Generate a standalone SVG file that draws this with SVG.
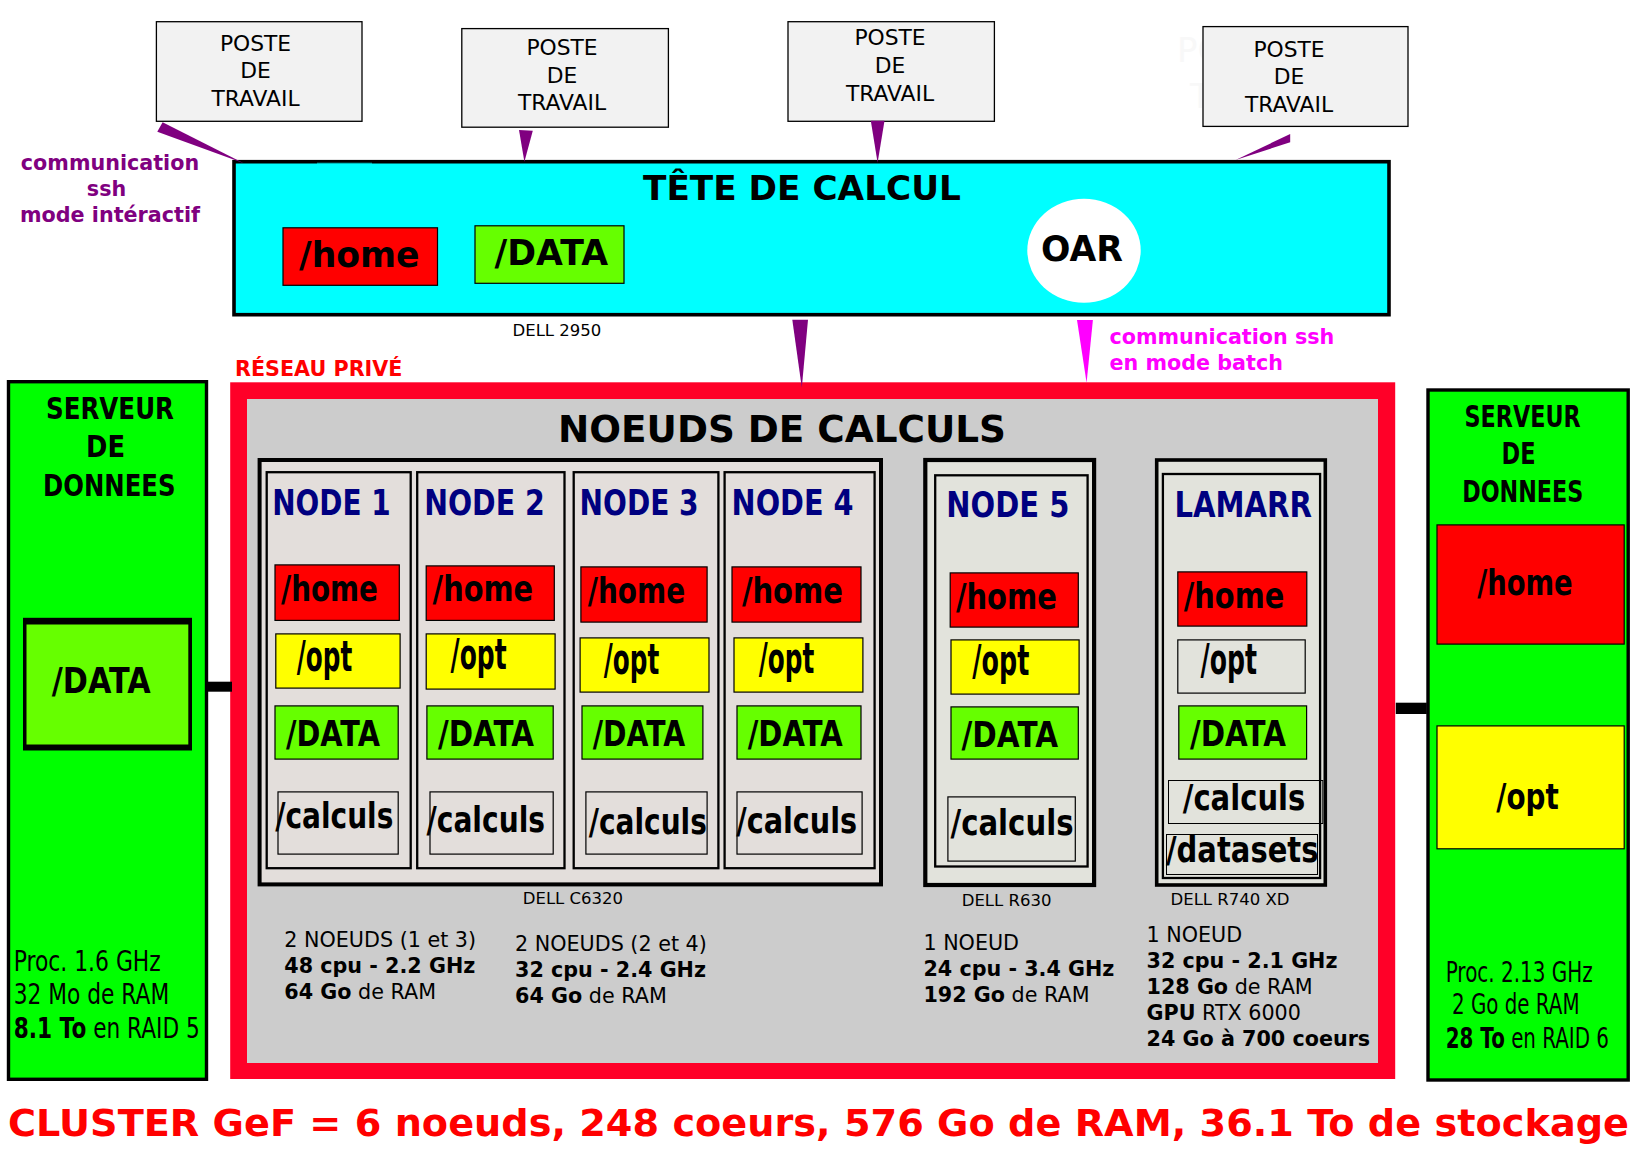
<svg xmlns="http://www.w3.org/2000/svg" width="1645" height="1163" viewBox="0 0 1645 1163">
<style>
text{font-family:"DejaVu Sans","Liberation Sans",sans-serif;fill:#000}
.b{font-weight:700}
.poste{font-size:21.8px;text-anchor:middle}
.pbox{fill:#f2f2f2;stroke:#000;stroke-width:1.3}
.st{font-weight:700;font-size:36px}
.op{font-weight:700;font-size:43px}
.ttl{font-weight:700;font-size:36px;fill:#000080}
.srv{font-weight:700;font-size:31px}
.inf{font-size:20.7px}
.dell{font-size:16.5px}
.proc{font-size:28px}
.h{fill:#f00;stroke:#000;stroke-width:1.2}
.o{fill:#ff0;stroke:#000;stroke-width:1.2}
.d{fill:#6f0;stroke:#000;stroke-width:1.2}
.c{fill:none;stroke:#000;stroke-width:1.2}
.nd{fill:#e3dedb;stroke:#000;stroke-width:2.3}
.nd5{fill:#e2e3dc;stroke:#000;stroke-width:2.3}
.pur{fill:#800080}
.mag{fill:#f0f}
.lnk{fill:#000}
.srvbox{fill:#0f0;stroke:#000;stroke-width:3.4}
.ghost{fill:#f8f8f8;font-size:34px}
</style>
<rect width="1645" height="1163" fill="#fff"/>

<g id="ghost"><text class="ghost" x="1177" y="61.5">PO</text><text class="ghost" x="1190" y="108">T</text></g>

<g id="poste-1"><rect class="pbox" x="156.4" y="21.7" width="205.6" height="99.6"/><text class="poste" x="255.5" y="50.7">POSTE</text><text class="poste" x="255.5" y="77.7">DE</text><text class="poste" x="255.5" y="105.5">TRAVAIL</text></g>
<g id="poste-2"><rect class="pbox" x="461.8" y="28.6" width="206.6" height="98.6"/><text class="poste" x="562" y="54.7">POSTE</text><text class="poste" x="562" y="82.7">DE</text><text class="poste" x="562" y="110">TRAVAIL</text></g>
<g id="poste-3"><rect class="pbox" x="788" y="21.7" width="206.4" height="99.6"/><text class="poste" x="890" y="45.3">POSTE</text><text class="poste" x="890" y="72.7">DE</text><text class="poste" x="890" y="101">TRAVAIL</text></g>
<g id="poste-4"><rect class="pbox" x="1203" y="26.6" width="205" height="99.8"/><text class="poste" x="1289" y="57">POSTE</text><text class="poste" x="1289" y="83.7">DE</text><text class="poste" x="1289" y="112">TRAVAIL</text></g>

<g id="tete">
<rect x="234" y="161.7" width="1155" height="153" fill="#0ff" stroke="#000" stroke-width="3.6"/>
<rect x="317" y="162.8" width="55" height=".7" fill="#0ff"/>
<text class="b" x="643" y="200" font-size="34.3">TÊTE DE CALCUL</text>
<g id="tete-home"><rect class="h" x="283" y="227.8" width="154.5" height="57.5"/><text class="st" x="299" y="267" textLength="120.5" lengthAdjust="spacingAndGlyphs">/home</text></g>
<g id="tete-data"><rect class="d" x="475" y="225.8" width="149" height="57.5"/><text class="st" x="494.5" y="264.5" textLength="113.5" lengthAdjust="spacingAndGlyphs">/DATA</text></g>
<g id="oar"><ellipse cx="1084" cy="250.7" rx="56.7" ry="52" fill="#fff"/><text class="b" x="1041" y="261" font-size="35" textLength="82" lengthAdjust="spacingAndGlyphs">OAR</text></g>
</g>
<text class="dell" x="512.5" y="335.5">DELL 2950</text>

<g id="label-ssh" font-size="20.7" style="font-weight:700">
<text x="110" y="169.8" text-anchor="middle" style="fill:#800080">communication</text>
<text x="106.5" y="196" text-anchor="middle" style="fill:#800080">ssh</text>
<text x="110" y="221.7" text-anchor="middle" style="fill:#800080">mode intéractif</text>
</g>
<g id="label-batch" font-size="20.7" style="font-weight:700">
<text x="1109.5" y="344.3" style="fill:#f0f">communication ssh</text>
<text x="1109.5" y="370" style="fill:#f0f">en mode batch</text>
</g>
<text x="235" y="376" font-size="20.7" style="font-weight:700;fill:#f00">RÉSEAU PRIVÉ</text>

<g id="reseau" transform="translate(0,1)">
<rect x="230.2" y="381.3" width="1165" height="696.7" fill="#ff0028"/>
<rect x="247" y="398" width="1131" height="664" fill="#ccc"/>
<text class="b" x="558" y="440.5" font-size="37.5" textLength="448" lengthAdjust="spacingAndGlyphs">NOEUDS DE CALCULS</text>
</g>

<g id="connectors">
<polygon class="pur" points="157.3,131.7 162.6,122.3 243.8,163.3"/>
<polygon class="pur" points="519,130 532.8,130.7 524.4,161.7"/>
<polygon class="pur" points="870.8,120.7 884.5,120.7 877.6,162.7"/>
<polygon class="pur" points="1290.2,134 1290.2,142.3 1235.6,160"/>
<polygon class="pur" points="792.3,319.7 808,319.7 801.8,387.7"/>
<polygon class="mag" points="1077,320 1092.9,320 1086.6,382.7"/>
<rect class="lnk" x="206.7" y="681.7" width="25.3" height="10"/>
<rect class="lnk" x="1395.8" y="702.7" width="31" height="11.3"/>
</g>

<g transform="translate(0,1)">
<g id="dell-c6320">
<rect x="259.6" y="459" width="621.4" height="424.4" fill="#e3dedb" stroke="#000" stroke-width="4"/>
</g>

<g id="node-1">
<rect class="nd" x="266.7" y="471.2" width="144" height="396"/>
<text class="ttl" x="272.2" y="514" textLength="118.5" lengthAdjust="spacingAndGlyphs">NODE 1</text>
<rect class="h" x="275" y="563.9" width="124.3" height="55.5"/><text class="st" x="281" y="600" textLength="97" lengthAdjust="spacingAndGlyphs">/home</text>
<rect class="o" x="275.8" y="632.9" width="124.3" height="54.2"/><text class="op" x="296.7" y="670" textLength="55.5" lengthAdjust="spacingAndGlyphs">/opt</text>
<rect class="d" x="275" y="704.9" width="123.2" height="53.2"/><text class="st" x="286" y="745" textLength="94" lengthAdjust="spacingAndGlyphs">/DATA</text>
<rect class="c" x="278" y="790.9" width="120.2" height="62.2"/><text class="st" x="275.3" y="827.3" textLength="118" lengthAdjust="spacingAndGlyphs">/calculs</text>
</g>
<g id="node-2">
<rect class="nd" x="417.2" y="471.2" width="147.3" height="396"/>
<text class="ttl" x="424.2" y="514" textLength="120.5" lengthAdjust="spacingAndGlyphs">NODE 2</text>
<rect class="h" x="426.2" y="564.9" width="128.1" height="54.5"/><text class="st" x="432.6" y="600" textLength="100.5" lengthAdjust="spacingAndGlyphs">/home</text>
<rect class="o" x="426.2" y="632.9" width="128.9" height="55.2"/><text class="op" x="450.6" y="668.3" textLength="56" lengthAdjust="spacingAndGlyphs">/opt</text>
<rect class="d" x="426.9" y="704.9" width="126.3" height="53.2"/><text class="st" x="438" y="745" textLength="96" lengthAdjust="spacingAndGlyphs">/DATA</text>
<rect class="c" x="430" y="790.9" width="123.2" height="62.2"/><text class="st" x="426.5" y="830.7" textLength="118.5" lengthAdjust="spacingAndGlyphs">/calculs</text>
</g>
<g id="node-3">
<rect class="nd" x="573.7" y="471.2" width="144.7" height="396"/>
<text class="ttl" x="579.6" y="514" textLength="119" lengthAdjust="spacingAndGlyphs">NODE 3</text>
<rect class="h" x="580.9" y="565.9" width="126.2" height="55.2"/><text class="st" x="587.7" y="602.3" textLength="97.5" lengthAdjust="spacingAndGlyphs">/home</text>
<rect class="o" x="580.1" y="636.9" width="128.9" height="54.2"/><text class="op" x="603.8" y="673.3" textLength="55.5" lengthAdjust="spacingAndGlyphs">/opt</text>
<rect class="d" x="582" y="704.9" width="120.9" height="53.2"/><text class="st" x="592.7" y="745" textLength="92.5" lengthAdjust="spacingAndGlyphs">/DATA</text>
<rect class="c" x="585.9" y="790.9" width="121.2" height="62.2"/><text class="st" x="588.8" y="833.3" textLength="118" lengthAdjust="spacingAndGlyphs">/calculs</text>
</g>
<g id="node-4">
<rect class="nd" x="724.6" y="471.2" width="150" height="396"/>
<text class="ttl" x="731.6" y="514" textLength="122" lengthAdjust="spacingAndGlyphs">NODE 4</text>
<rect class="h" x="732" y="565.9" width="129" height="55.2"/><text class="st" x="741.9" y="602.3" textLength="101" lengthAdjust="spacingAndGlyphs">/home</text>
<rect class="o" x="734" y="636.9" width="128.9" height="54.2"/><text class="op" x="758.8" y="672.3" textLength="55.5" lengthAdjust="spacingAndGlyphs">/opt</text>
<rect class="d" x="737" y="704.9" width="124" height="53.2"/><text class="st" x="747.7" y="745" textLength="95" lengthAdjust="spacingAndGlyphs">/DATA</text>
<rect class="c" x="737" y="790.9" width="125.1" height="62.2"/><text class="st" x="736.2" y="831.7" textLength="121" lengthAdjust="spacingAndGlyphs">/calculs</text>
</g>
<g id="node-5">
<rect x="925.3" y="459" width="168.8" height="425" fill="#e2e3dc" stroke="#000" stroke-width="4.2"/>
<rect class="nd5" x="935.2" y="474.3" width="152.4" height="391.2"/>
<text class="ttl" x="946.3" y="516" textLength="123" lengthAdjust="spacingAndGlyphs">NODE 5</text>
<rect class="h" x="950.2" y="571.9" width="128.1" height="54.2"/><text class="st" x="955.9" y="608.3" textLength="101" lengthAdjust="spacingAndGlyphs">/home</text>
<rect class="o" x="951" y="638.9" width="128.1" height="54.2"/><text class="op" x="972.3" y="674.3" textLength="57" lengthAdjust="spacingAndGlyphs">/opt</text>
<rect class="d" x="951" y="705.9" width="127.3" height="52.2"/><text class="st" x="961.6" y="746" textLength="96.5" lengthAdjust="spacingAndGlyphs">/DATA</text>
<rect class="c" x="947.9" y="795.9" width="127.4" height="64.2"/><text class="st" x="950.5" y="834.3" textLength="123" lengthAdjust="spacingAndGlyphs">/calculs</text>
</g>
<g id="lamarr">
<rect x="1156.7" y="459" width="168.6" height="425" fill="#e2e3dc" stroke="#000" stroke-width="3.6"/>
<rect class="nd5" x="1162.9" y="473" width="157.2" height="404"/>
<text class="ttl" x="1174.4" y="515.7" textLength="137.5" lengthAdjust="spacingAndGlyphs">LAMARR</text>
<rect class="h" x="1177.8" y="570.9" width="129" height="54.2"/><text class="st" x="1183.8" y="607.3" textLength="100.5" lengthAdjust="spacingAndGlyphs">/home</text>
<rect style="fill:#e2e3dc" class="c" x="1177.8" y="638.9" width="127.4" height="53.2"/><text class="op" x="1200.5" y="673.3" textLength="56.5" lengthAdjust="spacingAndGlyphs">/opt</text>
<rect class="d" x="1178.8" y="704.9" width="127.8" height="53.2"/><text class="st" x="1190" y="745" textLength="96" lengthAdjust="spacingAndGlyphs">/DATA</text>
<rect class="c" style="stroke-width:1" x="1168.5" y="779.5" width="154.3" height="43"/><text class="st" x="1182.8" y="809" textLength="122.5" lengthAdjust="spacingAndGlyphs">/calculs</text>
<rect class="c" style="stroke-width:1" x="1166.5" y="833.5" width="151" height="40"/><text class="st" x="1166" y="860.7" textLength="152.5" lengthAdjust="spacingAndGlyphs">/datasets</text>
</g>

<g id="serveur-gauche">
<rect class="srvbox" x="8.5" y="380.7" width="198" height="697.6"/>
<text class="srv" x="46" y="418" textLength="128" lengthAdjust="spacingAndGlyphs">SERVEUR</text>
<text class="srv" x="86" y="456" textLength="39" lengthAdjust="spacingAndGlyphs">DE</text>
<text class="srv" x="43" y="494.7" textLength="132.5" lengthAdjust="spacingAndGlyphs">DONNEES</text>
<rect x="23" y="616.8" width="169" height="132.7" fill="#000"/>
<rect x="26.5" y="623.5" width="161.8" height="120" fill="#6f0"/>
<text class="st" x="51.8" y="692.2" textLength="99" lengthAdjust="spacingAndGlyphs">/DATA</text>
<text class="proc" x="13.7" y="970" textLength="147" lengthAdjust="spacingAndGlyphs">Proc. 1.6 GHz</text>
<text class="proc" x="13.7" y="1002.7" textLength="155.5" lengthAdjust="spacingAndGlyphs">32 Mo de RAM</text>
<text class="proc" transform="translate(13.7,1036.7) scale(.773,1)"><tspan class="b">8.1 To</tspan> en RAID 5</text>
</g>

<g id="serveur-droit">
<rect class="srvbox" x="1428" y="389" width="200.2" height="690"/>
<text class="srv" x="1464.6" y="426" textLength="116" lengthAdjust="spacingAndGlyphs">SERVEUR</text>
<text class="srv" x="1501.5" y="463.3" textLength="34" lengthAdjust="spacingAndGlyphs">DE</text>
<text class="srv" x="1462.2" y="500.7" textLength="121" lengthAdjust="spacingAndGlyphs">DONNEES</text>
<rect class="h" x="1437" y="523.9" width="187.2" height="119.2"/>
<text class="st" x="1477.2" y="594.3" textLength="95.5" lengthAdjust="spacingAndGlyphs">/home</text>
<rect class="o" x="1437" y="724.9" width="187.2" height="122.9"/>
<text class="st" x="1496.3" y="807.7" textLength="62.5" lengthAdjust="spacingAndGlyphs">/opt</text>
<text class="proc" x="1445.7" y="980.7" textLength="147" lengthAdjust="spacingAndGlyphs">Proc. 2.13 GHz</text>
<text class="proc" x="1452" y="1013.3" textLength="127.5" lengthAdjust="spacingAndGlyphs">2 Go de RAM</text>
<text class="proc" transform="translate(1445.7,1046.7) scale(.71,1)"><tspan class="b">28 To</tspan> en RAID 6</text>
</g>

<g id="infos">
<text class="dell" x="522.8" y="903.3">DELL C6320</text>
<text class="dell" x="961.7" y="905">DELL R630</text>
<text class="dell" x="1170.5" y="904">DELL R740 XD</text>
<g class="inf">
<text class="inf" x="284.3" y="946">2 NOEUDS (1 et 3)</text>
<text class="inf b" x="284.3" y="971.7">48 cpu - 2.2 GHz</text>
<text class="inf" x="284.3" y="997.7"><tspan class="b">64 Go</tspan> de RAM</text>
<text class="inf" x="515" y="950">2 NOEUDS (2 et 4)</text>
<text class="inf b" x="515" y="975.7">32 cpu - 2.4 GHz</text>
<text class="inf" x="515" y="1001.7"><tspan class="b">64 Go</tspan> de RAM</text>
<text class="inf" x="923.4" y="948.7">1 NOEUD</text>
<text class="inf b" x="923.4" y="975">24 cpu - 3.4 GHz</text>
<text class="inf" x="923.4" y="1001"><tspan class="b">192 Go</tspan> de RAM</text>
<text class="inf" x="1146.5" y="940.7">1 NOEUD</text>
<text class="inf b" x="1146.5" y="967">32 cpu - 2.1 GHz</text>
<text class="inf" x="1146.5" y="993"><tspan class="b">128 Go</tspan> de RAM</text>
<text class="inf" x="1146.5" y="1019"><tspan class="b">GPU</tspan> RTX 6000</text>
<text class="inf b" x="1146.5" y="1045">24 Go à 700 coeurs</text>
</g>
</g>

<text id="cluster" x="8" y="1135" font-size="38" textLength="1621" lengthAdjust="spacingAndGlyphs" style="font-weight:700;fill:#f00">CLUSTER GeF = 6 noeuds, 248 coeurs, 576 Go de RAM, 36.1 To de stockage</text>
</g>
</svg>
